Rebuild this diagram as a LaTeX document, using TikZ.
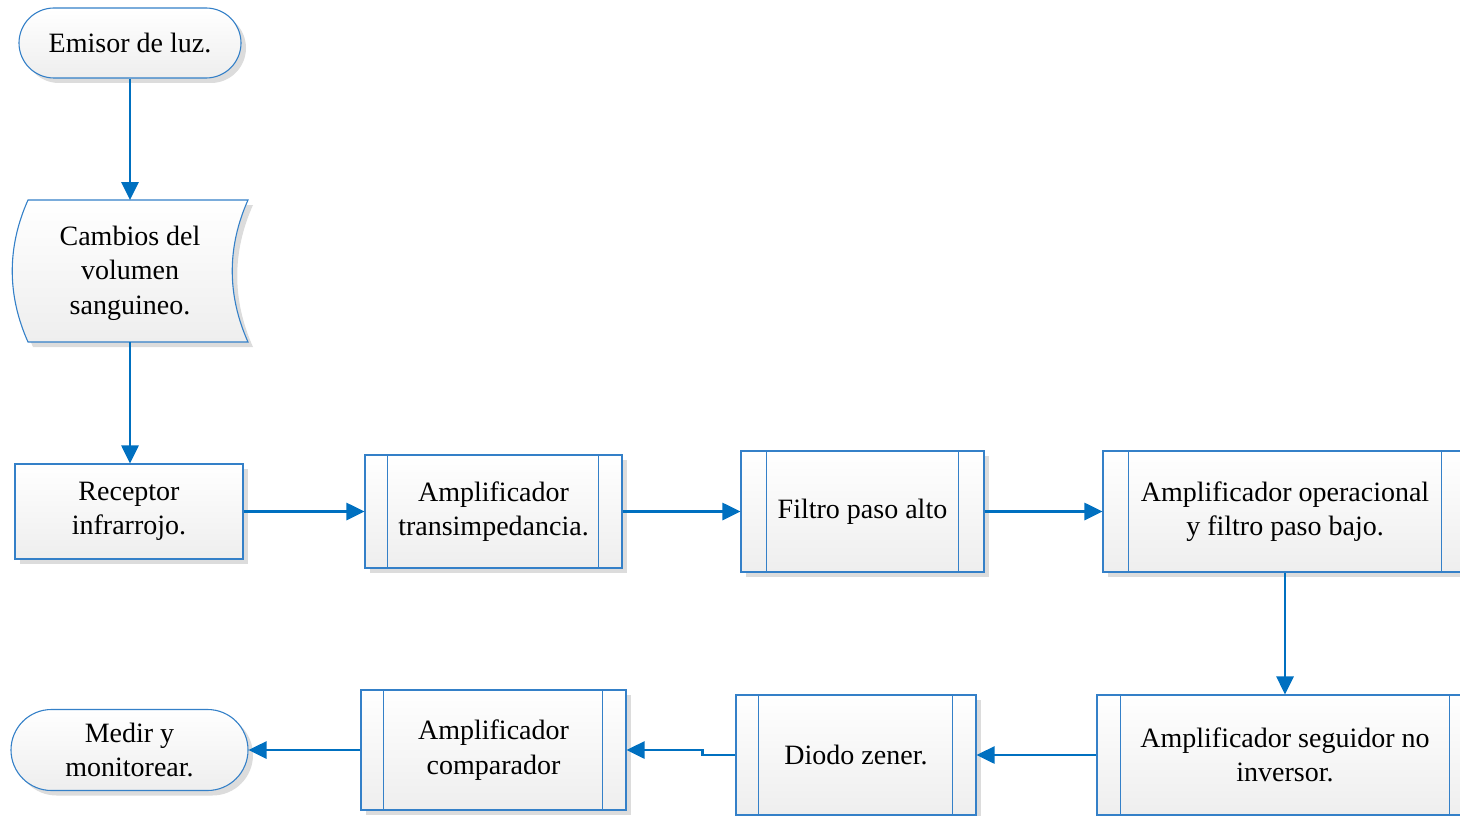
\documentclass[tikz,border=0pt]{standalone}
\usepackage{fontspec}
\setmainfont{Liberation Serif}
\usetikzlibrary{arrows.meta,shapes.misc,shadows}
\definecolor{bordc}{RGB}{52,128,200}
\definecolor{connc}{RGB}{0,112,192}
\definecolor{fillb}{RGB}{238,238,238}
\definecolor{shadc}{RGB}{220,220,220}
\tikzset{
  txt/.style={font=\fontsize{28}{34.5}\selectfont, align=center},
  boxstyle/.style={draw=bordc, line width=1.1pt, top color=white, bottom color=fillb,
     drop shadow={shadow xshift=5pt, shadow yshift=-5pt, fill=shadc, opacity=1},
     inner sep=0pt, txt},
  procbox/.style={boxstyle, rectangle},
  termbox/.style={boxstyle, rounded rectangle},
  conn/.style={draw=connc, line width=2.8pt, -{Triangle[length=18pt,width=17pt]}},
  inner/.style={draw=bordc, line width=1.1pt}
}
\begin{document}
\begin{tikzpicture}[x=1pt,y=-1pt]
\useasboundingbox (0,0) rectangle (1460,816);
\clip (0,0) rectangle (1460,816);

% Emisor
\node[termbox, minimum width=222pt, minimum height=70pt] (emisor) at (130,43) {Emisor de luz.};

% Stored data shape
\fill[shadc] ([xshift=5pt,yshift=-5pt]28,200) .. controls ([xshift=5pt,yshift=-5pt]7,247) and ([xshift=5pt,yshift=-5pt]7,295) .. ([xshift=5pt,yshift=-5pt]28,342) -- ([xshift=5pt,yshift=-5pt]248,342) .. controls ([xshift=5pt,yshift=-5pt]227,295) and ([xshift=5pt,yshift=-5pt]227,247) .. ([xshift=5pt,yshift=-5pt]248,200) -- cycle;
\shade[top color=white, bottom color=fillb] (28,200) .. controls (7,247) and (7,295) .. (28,342) -- (248,342) .. controls (227,295) and (227,247) .. (248,200) -- cycle;
\draw[draw=bordc, line width=1.1pt] (28,200) .. controls (7,247) and (7,295) .. (28,342) -- (248,342) .. controls (227,295) and (227,247) .. (248,200) -- cycle;
\node[txt, minimum width=236pt, minimum height=142pt, inner sep=0pt] (cambios) at (130,273) {Cambios del\\volumen\\sanguineo.};
\coordinate (cambtop) at (130,200);
\coordinate (cambbot) at (130,342);

% Receptor
\node[procbox, minimum width=228pt, minimum height=95pt] (receptor) at (129,511.5) {Receptor\\infrarrojo.};

% Predefined processes
\node[procbox, minimum width=257pt, minimum height=113pt] (trans) at (493.5,511.5) {Amplificador\\transimpedancia.};
\draw[inner] ([xshift=23pt]trans.north west) -- ([xshift=23pt]trans.south west);
\draw[inner] ([xshift=-24pt]trans.north east) -- ([xshift=-24pt]trans.south east);

\node[procbox, minimum width=243pt, minimum height=121pt] (filtro) at (862.5,511.5) {Filtro paso alto};
\draw[inner] ([xshift=26pt]filtro.north west) -- ([xshift=26pt]filtro.south west);
\draw[inner] ([xshift=-26pt]filtro.north east) -- ([xshift=-26pt]filtro.south east);

\node[procbox, minimum width=364pt, minimum height=121pt] (opamp) at (1285,511.5) {Amplificador operacional\\y filtro paso bajo.};
\draw[inner] ([xshift=26pt]opamp.north west) -- ([xshift=26pt]opamp.south west);
\draw[inner] ([xshift=-26pt]opamp.north east) -- ([xshift=-26pt]opamp.south east);

\node[procbox, minimum width=376pt, minimum height=120pt] (seg) at (1285,755) {Amplificador seguidor no\\inversor.};
\draw[inner] ([xshift=24pt]seg.north west) -- ([xshift=24pt]seg.south west);
\draw[inner] ([xshift=-24pt]seg.north east) -- ([xshift=-24pt]seg.south east);

\node[procbox, minimum width=240pt, minimum height=120pt] (diodo) at (856,755) {Diodo zener.};
\draw[inner] ([xshift=23pt]diodo.north west) -- ([xshift=23pt]diodo.south west);
\draw[inner] ([xshift=-24pt]diodo.north east) -- ([xshift=-24pt]diodo.south east);

\node[procbox, minimum width=265pt, minimum height=120pt] (comp) at (493.5,750) {Amplificador\\comparador};
\draw[inner] ([xshift=23pt]comp.north west) -- ([xshift=23pt]comp.south west);
\draw[inner] ([xshift=-24pt]comp.north east) -- ([xshift=-24pt]comp.south east);

% Medir
\node[termbox, minimum width=237pt, minimum height=81pt] (medir) at (129.5,750) {Medir y\\monitorear.};

% Connectors
\draw[conn] (emisor.south) -- (cambtop);
\draw[conn] (cambbot) -- (cambbot |- receptor.north);
\draw[conn] (receptor.east) -- (trans.west);
\draw[conn] (trans.east) -- (filtro.west);
\draw[conn] (filtro.east) -- (opamp.west);
\draw[conn] (opamp.south) -- (seg.north);
\draw[conn] (seg.west) -- (diodo.east);
\coordinate (jog) at ([xshift=-33pt]diodo.west);
\draw[conn] (diodo.west) -- (jog) |- (comp.east);
\draw[conn] (comp.west) -- (medir.east);
\end{tikzpicture}
\end{document}
